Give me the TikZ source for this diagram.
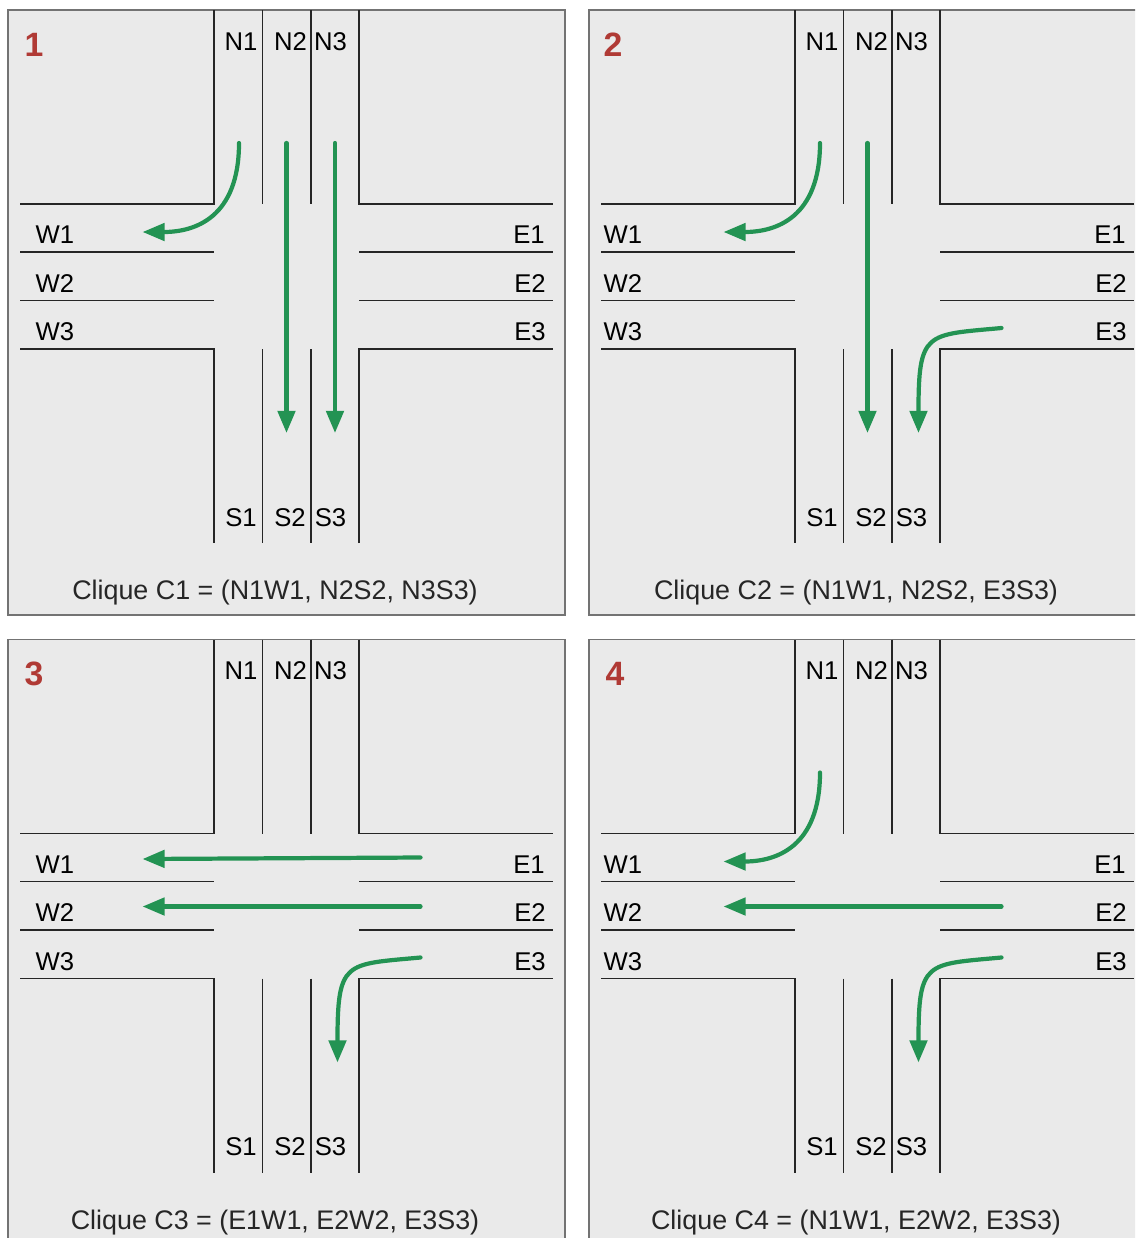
\documentclass[tikz,border=0pt]{standalone}
\usepackage{fontspec}
\setmainfont{Liberation Sans}
\usetikzlibrary{arrows.meta}
\definecolor{panelgray}{HTML}{EAEAEA}
\definecolor{flowgreen}{HTML}{239353}
\definecolor{numred}{HTML}{B03A35}

\tikzset{
    road/.style={black!85, line width=0.4pt},
    panelbox/.style={draw=black!55, fill=panelgray, line width=0.4pt},
    lane/.style={inner sep=0pt, font=\fontsize{7.3}{9}\selectfont},
    caption/.style={inner sep=0pt, black!85, font=\fontsize{7.64}{9}\selectfont},
    panelnum/.style={inner sep=0pt, numred, font=\fontsize{9.6}{11}\selectfont\bfseries},
    flow/.style={flowgreen, line width=1.2pt, line cap=round, -{Triangle[length=6.3pt, width=4.9pt]}}
}

\begin{document}
\begin{tikzpicture}[x=0.01cm, y=-0.01cm]
\clip (0,0) rectangle (1135,1238);

% Draw the four panels
\foreach \px/\py/\num/\wx/\nx/\capt in {
    0/0/1/55/34/{Clique C1 = (N1W1, N2S2, N3S3)},
    581/0/2/42/32/{Clique C2 = (N1W1, N2S2, E3S3)},
    0/629.5/3/55/34/{Clique C3 = (E1W1, E2W2, E3S3)},
    581/629.5/4/42/34/{Clique C4 = (N1W1, E2W2, E3S3)}} {
\begin{scope}[shift={(\px,\py)}]
    \draw[panelbox] (8,10) rectangle (565,615);

    % Road edges
    \draw[road] (20,204) -- (214,204) -- (214,10);
    \draw[road] (359,10) -- (359,204) -- (553,204);
    \draw[road] (20,349) -- (214,349) -- (214,543);
    \draw[road] (359,543) -- (359,349) -- (553,349);

    % Lane lines
    \foreach \lx in {262.5,311} {
        \draw[road] (\lx,10) -- (\lx,204);
        \draw[road] (\lx,349) -- (\lx,543);
    }
    \foreach \ly in {252,300.5} {
        \draw[road] (20,\ly) -- (214,\ly);
        \draw[road] (359,\ly) -- (553,\ly);
    }

    % Lane labels
    \node[lane] (n1-\num) at (241,41.5) {N1};
    \node[lane] (n2-\num) at (290.5,41.5) {N2};
    \node[lane] (n3-\num) at (330.5,41.5) {N3};
    \node[lane] (s1-\num) at (241,517.5) {S1};
    \node[lane] (s2-\num) at (290,517.5) {S2};
    \node[lane] (s3-\num) at (330.5,517.5) {S3};
    \node[lane] (w1-\num) at (\wx,235) {W1};
    \node[lane] (w2-\num) at (\wx,283.5) {W2};
    \node[lane] (w3-\num) at (\wx,332) {W3};
    \node[lane] (e1-\num) at (529,235) {E1};
    \node[lane] (e2-\num) at (530,283.5) {E2};
    \node[lane] (e3-\num) at (530,332) {E3};

    \node[panelnum] (num-\num) at (\nx,44.5) {\num};
    \node[caption] (capt-\num) at (275,593) {\capt};

    % Ends of the flows
    \coordinate (nwa-\num) at (239,143);
    \coordinate (nwb-\num) at (142.5,232);
    \coordinate (nna-\num) at (286.5,143);
    \coordinate (nnb-\num) at (286.5,433);
    \coordinate (ssa-\num) at (335,143);
    \coordinate (ssb-\num) at (335,433);
    \coordinate (esa-\num) at (420.5,328);
    \coordinate (esb-\num) at (337.5,433);
    \coordinate (eea-\num) at (420.5,228);
    \coordinate (eeb-\num) at (142.5,229.5);
    \coordinate (wwa-\num) at (420.5,277);
    \coordinate (wwb-\num) at (142.5,277);
\end{scope}
}

% Panel 1
\draw[flow] (nwa-1) .. controls +(0,75) and +(52,0) .. (nwb-1);
\draw[flow] (nna-1) -- (nnb-1);
\draw[flow] (ssa-1) -- (ssb-1);

% Panel 2
\draw[flow] (nwa-2) .. controls +(0,75) and +(52,0) .. (nwb-2);
\draw[flow] (nna-2) -- (nnb-2);
\draw[flow] (esa-2) .. controls +(-76,7) and +(0,-102) .. (esb-2);

% Panel 3
\draw[flow] (eea-3) -- (eeb-3);
\draw[flow] (wwa-3) -- (wwb-3);
\draw[flow] (esa-3) .. controls +(-76,7) and +(0,-102) .. (esb-3);

% Panel 4
\draw[flow] (nwa-4) .. controls +(0,75) and +(52,0) .. (nwb-4);
\draw[flow] (wwa-4) -- (wwb-4);
\draw[flow] (esa-4) .. controls +(-76,7) and +(0,-102) .. (esb-4);
\end{tikzpicture}
\end{document}
